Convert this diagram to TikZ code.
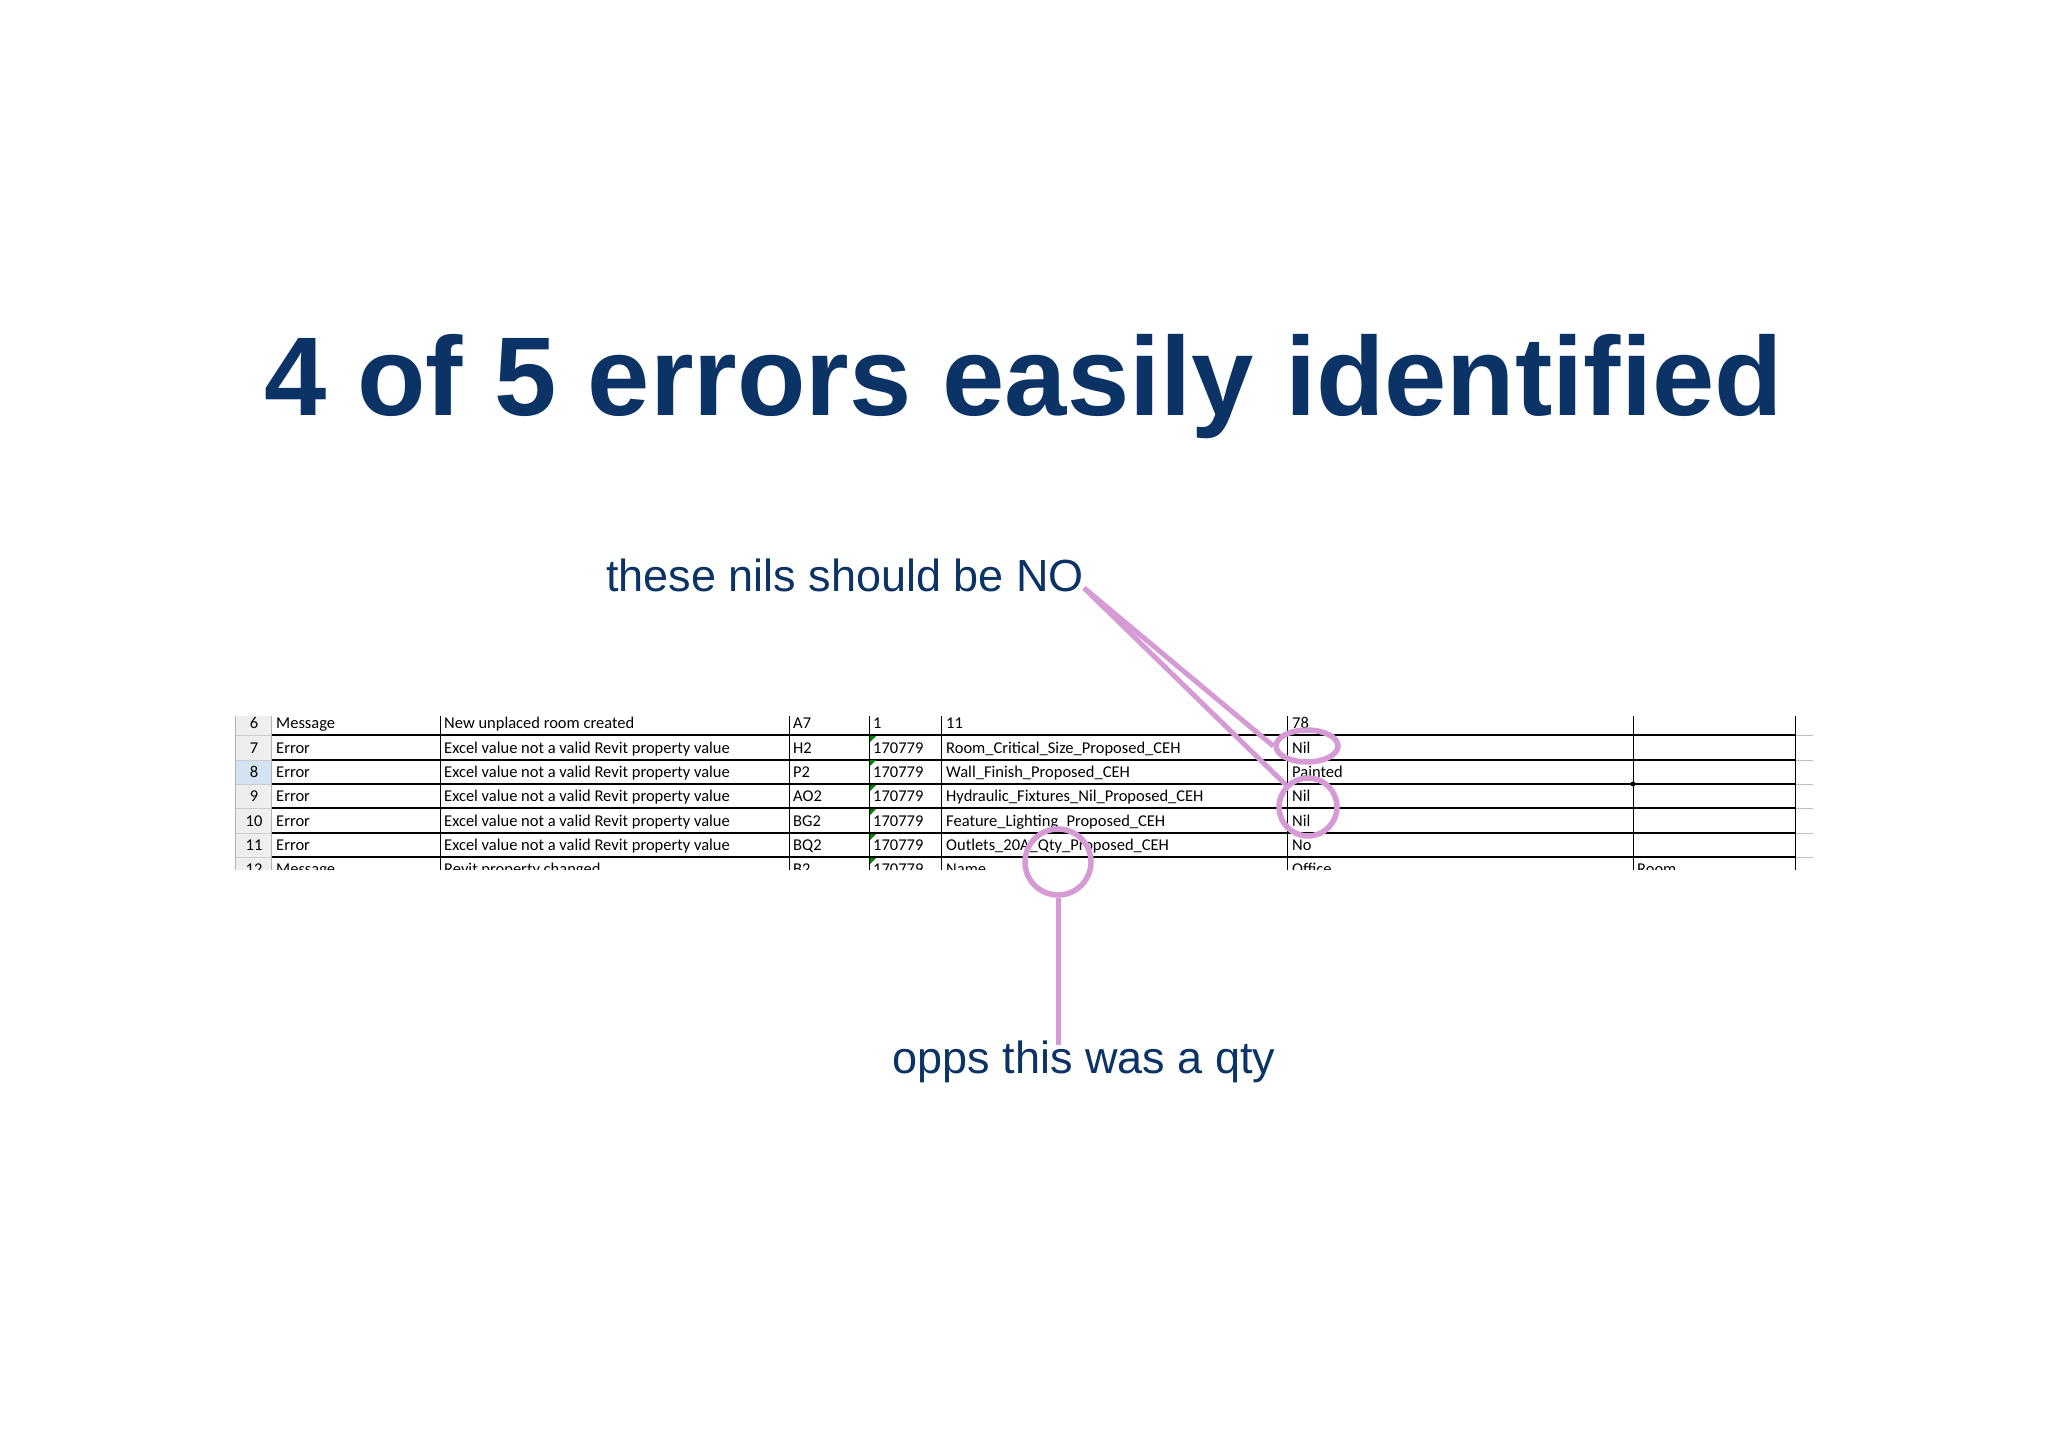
\documentclass[tikz,border=0pt]{standalone}
\usepackage{fontspec}
\setmainfont{Liberation Sans}
\newfontfamily\cellfont{Carlito}
\usetikzlibrary{shapes.geometric}
\definecolor{navy}{HTML}{0B3366}
\definecolor{pinkish}{HTML}{D69AD5}
\definecolor{hdrgray}{HTML}{EEEEEE}
\definecolor{selblue}{HTML}{D4E3F4}
\begin{document}
\begin{tikzpicture}[x=1pt,y=-1pt,
  cell/.style={anchor=base west,font=\cellfont\fontsize{16.5}{18}\selectfont,inner sep=0pt,text=black},
  num/.style={anchor=base,font=\cellfont\fontsize{16.5}{18}\selectfont,inner sep=0pt},
  ring/.style={draw=pinkish,line width=5.5pt,ellipse,inner sep=0pt},
  callout/.style={draw=pinkish,line width=5pt},
  note/.style={font=\fontsize{45}{50}\selectfont,text=navy,inner sep=0pt}]
\useasboundingbox (0,0) rectangle (2048,1447);
\fill[white] (0,0) rectangle (2048,1447);
\node[anchor=base west,inner sep=0pt,text=navy,font=\bfseries\fontsize{112}{120}\selectfont] (title) at (264,415) {4 of 5 errors easily identified};
% table
\begin{scope}
\clip (230,716) rectangle (1815,869);
\fill[hdrgray] (235,700) rectangle (271,880);
\fill[selblue] (235,760) rectangle (271,784);
\foreach \y in {735,760,784,808,833,857}{
  \draw[black,line width=1.3pt] (271,\y) -- (1795,\y);
  \draw[gray!40,line width=0.8pt] (235,\y) -- (271,\y);
  \draw[gray!50,line width=0.8pt] (1795,\y) -- (1813,\y);}
\foreach \x in {440,789,869,941,1287,1633,1795}{
  \draw[black,line width=1pt] (\x,700) -- (\x,880);}
\draw[gray!60,line width=0.8pt] (235,700) -- (235,880);
\draw[gray!60,line width=0.8pt] (271,700) -- (271,880);
\draw[black,line width=0.8pt] (1287,760) rectangle (1633,784);
\fill[black] (1633,784) circle (2.5pt);
\foreach \x in {870} \foreach \y in {736,760,785,809,834,858}{\fill[green!50!black] (\x,\y) -- (\x+6,\y) -- (\x,\y+6) -- cycle;}
\foreach \r/\yb/\a/\b/\c/\d/\e/\f in {
 6/728/Message/New unplaced room created/A7/1/11/78/Id/NEW,
 7/753/Error/Excel value not a valid Revit property value/H2/170779/Room\_Critical\_Size\_Proposed\_CEH/Nil,
 8/777/Error/Excel value not a valid Revit property value/P2/170779/Wall\_Finish\_Proposed\_CEH/Painted,
 9/801/Error/Excel value not a valid Revit property value/AO2/170779/Hydraulic\_Fixtures\_Nil\_Proposed\_CEH/Nil,
 10/826/Error/Excel value not a valid Revit property value/BG2/170779/Feature\_Lighting\_Proposed\_CEH/Nil,
 11/850/Error/Excel value not a valid Revit property value/BQ2/170779/Outlets\_20A\_Qty\_Proposed\_CEH/No,
 12/874/Message/Revit property changed/B2/170779/Name/Office}{
  \node[num] at (254,\yb) {\r};
  \node[cell] at (276,\yb) {\a};
  \node[cell] at (444,\yb) {\b};
  \node[cell] at (793,\yb) {\c};
  \node[cell] at (873,\yb) {\d};
  \node[cell] at (946,\yb) {\e};
  \node[cell] at (1292,\yb) {\f};}
\node[cell] at (1637,874) {Room};
\end{scope}
% annotations
\node[note] (nils) at (845,575) {these nils should be NO};
\node[note] (qty) at (1084,1062) {opps this was a qty};
\node[ring,minimum width=62pt,minimum height=32pt] (nil1) at (1307,746) {};
\node[ring,minimum width=58pt,minimum height=58pt] (nil2) at (1308,807) {};
\node[ring,circle,minimum size=66pt] (qc) at (1058,862) {};
\coordinate (tip) at (1084,588);
\draw[callout] (tip) -- (nil1.west);
\draw[callout] (tip) -- (nil2.north west);
\draw[callout] (qc.south) -- (1058,1045);
\end{tikzpicture}
\end{document}
